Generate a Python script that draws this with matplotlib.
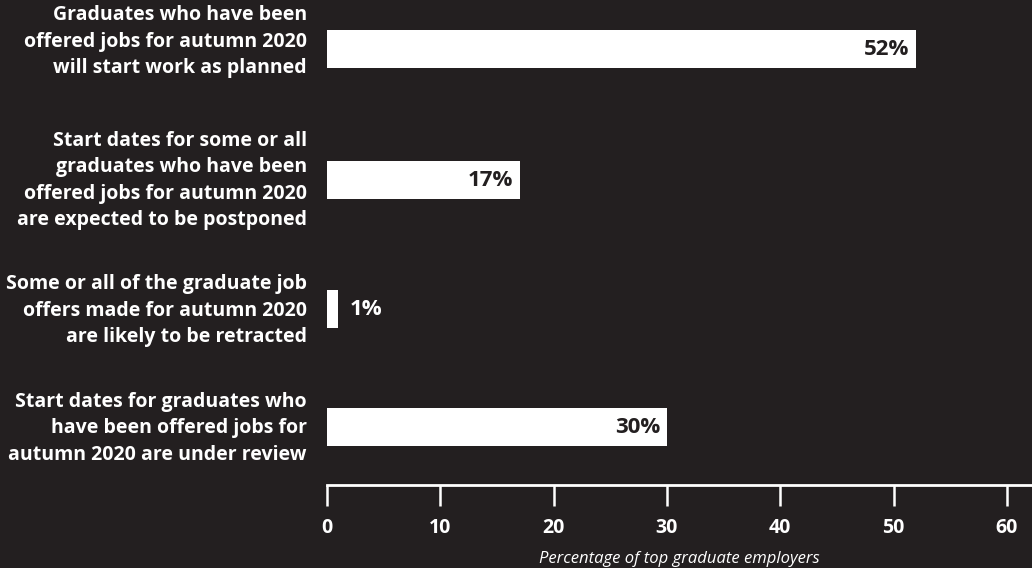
import matplotlib
matplotlib.use("Agg")
import matplotlib.pyplot as plt

# Данные
categories = [
    "Graduates who have been\noffered jobs for autumn 2020\nwill start work as planned",
    "Start dates for some or all\ngraduates who have been\noffered jobs for autumn 2020\nare expected to be postponed",
    "Some or all of the graduate job\noffers made for autumn 2020\nare likely to be retracted",
    "Start dates for graduates who\nhave been offered jobs for\nautumn 2020 are under review",
]
values = [52, 17, 1, 30]
x_ticks = [0, 10, 20, 30, 40, 50, 60]
x_label = "Percentage of top graduate employers"

BG = "#231f20"
FG = "#ffffff"
FONT = "Open Sans"

W, H = 1032, 568
fig = plt.figure(figsize=(W / 100, H / 100), dpi=100, facecolor=BG)

# оси: слева от 0 до правого края, снизу линия оси
x0_px, axis_px = 327, 485
ax = fig.add_axes([x0_px / W, (H - axis_px) / H, 1 - x0_px / W, axis_px / H])
ax.set_facecolor(BG)
px_per_unit = 11.33
ax.set_xlim(0, (W - x0_px) / px_per_unit)
ax.set_ylim(axis_px, 0)

# центры полос в пикселях сверху, сдвиг подписей слева
bar_y = [48.5, 179.5, 308.5, 426.5]
label_dy = [-8, 0, 1, 1]
ax.barh(bar_y, values, height=38, color=FG, left=0)

for y, dy, v, lab in zip(bar_y, label_dy, values, categories):
    if v >= 5:
        ax.text(v - 0.6, y + 1, f"{v}%", ha="right", va="center",
                color=BG, fontsize=16, fontweight="bold", family=FONT)
    else:
        ax.text(v + 1.0, y + 1, f"{v}%", ha="left", va="center",
                color=FG, fontsize=16, fontweight="bold", family=FONT)
    fig.text(307 / W, 1 - (y + dy + 1) / H, lab, ha="right", va="center",
             color=FG, fontsize=14, fontweight="bold", family=FONT,
             linespacing=1.44)

for s in ["top", "right", "left"]:
    ax.spines[s].set_visible(False)
ax.spines["bottom"].set_color(FG)
ax.spines["bottom"].set_linewidth(2)
ax.set_yticks([])
ax.set_xticks(x_ticks)
ax.set_xticklabels([str(t) for t in x_ticks], family=FONT,
                   fontweight="bold", fontsize=14)
ax.tick_params(axis="x", colors=FG, direction="out", length=15,
               width=1.8, pad=9)
ax.set_xlabel(x_label, color=FG, fontsize=12, style="italic",
              family=FONT, labelpad=9)

fig.savefig("out.png", dpi=100, facecolor=BG)
